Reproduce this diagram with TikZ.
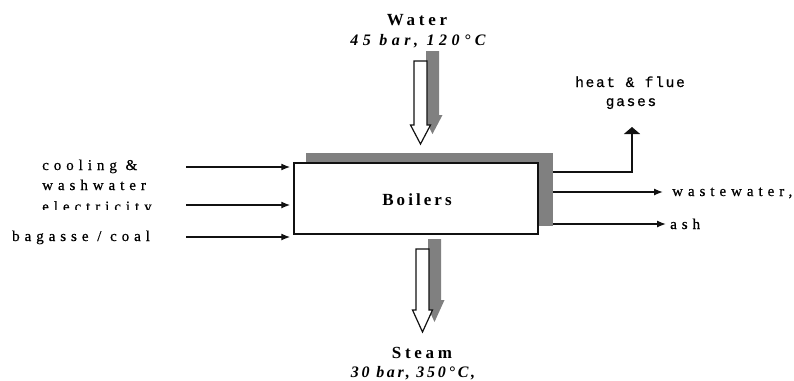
\documentclass[tikz,border=0pt]{standalone}
\usepackage{fontspec}
\setmainfont{Liberation Serif}
\newfontfamily\labfont[LetterSpace=33,FakeBold=0.6]{Liberation Serif}
\newfontfamily\hdfont[LetterSpace=22]{Liberation Serif}
\newfontfamily\boilfont[LetterSpace=18]{Liberation Serif}
\newfontfamily\itfont[LetterSpace=28]{Liberation Serif}
\newfontfamily\itbfont[LetterSpace=17]{Liberation Serif}
\newfontfamily\monofont[LetterSpace=12,FakeBold=0.6]{Liberation Mono}
\usetikzlibrary{arrows.meta}
\definecolor{shadowgray}{HTML}{808080}
\definecolor{inkblack}{HTML}{111111}
\newcommand\hollowarr[4]{%
  \fill[shadowgray] ({#1+12-6.5},{#2-10}) -- ({#1+12+6.5},{#2-10}) -- ({#1+12+6.5},{#3-10}) -- ({#1+12+10},{#3-10}) -- ({#1+12},{#4-10}) -- ({#1+12-10},{#3-10}) -- ({#1+12-6.5},{#3-10}) -- cycle;
  \draw[fill=white, line width=1.2pt, draw=inkblack] ({#1-6.5},{#2}) -- ({#1+6.5},{#2}) -- ({#1+6.5},{#3}) -- ({#1+10},{#3}) -- ({#1},{#4}) -- ({#1-10},{#3}) -- ({#1-6.5},{#3}) -- cycle;
}
\tikzset{
  lab/.style={inner sep=0pt, anchor=base west, font=\labfont\fontsize{15}{17}\selectfont},
  mlab/.style={inner sep=0pt, anchor=base, font=\monofont\fontsize{14.5}{17}\selectfont},
  hd/.style={inner sep=0pt, anchor=base, font=\hdfont\bfseries\fontsize{17}{19}\selectfont},
  hdit/.style={inner sep=0pt, anchor=base, font=\itfont\bfseries\itshape\fontsize{16}{18}\selectfont},
  inarrow/.style={line width=1.3pt, draw=inkblack, -{Latex[length=9pt,width=7pt]}, shorten >=3pt},
  outarrow/.style={line width=1.3pt, draw=inkblack, -{Latex[length=9pt,width=7pt]}},
}
\begin{document}
\begin{tikzpicture}[x=1pt,y=-1pt]
\useasboundingbox (0,0) rectangle (794,380);
% shadow and box
\node[fill=shadowgray, minimum width=247pt, minimum height=73pt, inner sep=0pt] (shadow) at (429.5,189.5) {};
\node[draw=inkblack, line width=1.5pt, fill=white, minimum width=244pt, minimum height=71pt, inner sep=0pt] (boiler) at (416,198.5) {};
\node[hd, font=\boilfont\bfseries\fontsize{17}{19}\selectfont] (boilertxt) at (417,205) {Boilers};
% top and bottom hollow arrows
\hollowarr{420.5}{61}{125}{144}
\hollowarr{422.5}{249}{310}{332}
% top labels
\node[hd] (water) at (417,25) {Water};
\node[hdit] (wcond) at (418,45) {45 bar, 120°C};
% bottom labels
\node[hd] (steam) at (422,358) {Steam};
\node[hdit, font=\itbfont\bfseries\itshape\fontsize{16}{18}\selectfont] (scond) at (413,377) {30 bar, 350°C,};
% left labels
\node[lab] (cool) at (42,170) {cooling \&};
\node[lab] (wash) at (42,190) {washwater};
\begin{scope}
\clip (0,195) rectangle (300,209.5);
\node[lab] (elec) at (42,211.5) {electricity};
\end{scope}
\node[lab] (bag) at (12,241) {bagasse / coal};
% left arrows
\coordinate (l1) at (186,167);
\coordinate (l2) at (186,205);
\coordinate (l3) at (186,237);
\draw[inarrow] (l1) -- (l1 -| boiler.west);
\draw[inarrow] (l2) -- (l2 -| boiler.west);
\draw[inarrow] (l3) -- (l3 -| boiler.west);
% right outputs
\coordinate (h1) at (shadow.east |- 0,172);
\coordinate (h2) at (632,172);
\coordinate (htip) at (632,127);
\draw[line width=1.3pt, draw=inkblack, -{Triangle[length=7pt,width=16pt]}] (h1) -- (h2) -- (htip);
\node[mlab] (heat) at (630,87) {heat \& flue};
\node[mlab] (gases) at (631,106) {gases};
\coordinate (w1) at (shadow.east |- 0,192);
\coordinate (w2) at (663,192);
\draw[outarrow] (w1) -- (w2);
\node[lab] (waste) at (672,196) {wastewater,};
\coordinate (a1) at (shadow.east |- 0,224);
\coordinate (a2) at (666,224);
\draw[outarrow] (a1) -- (a2);
\node[lab] (ash) at (670,229) {ash};
\end{tikzpicture}
\end{document}
